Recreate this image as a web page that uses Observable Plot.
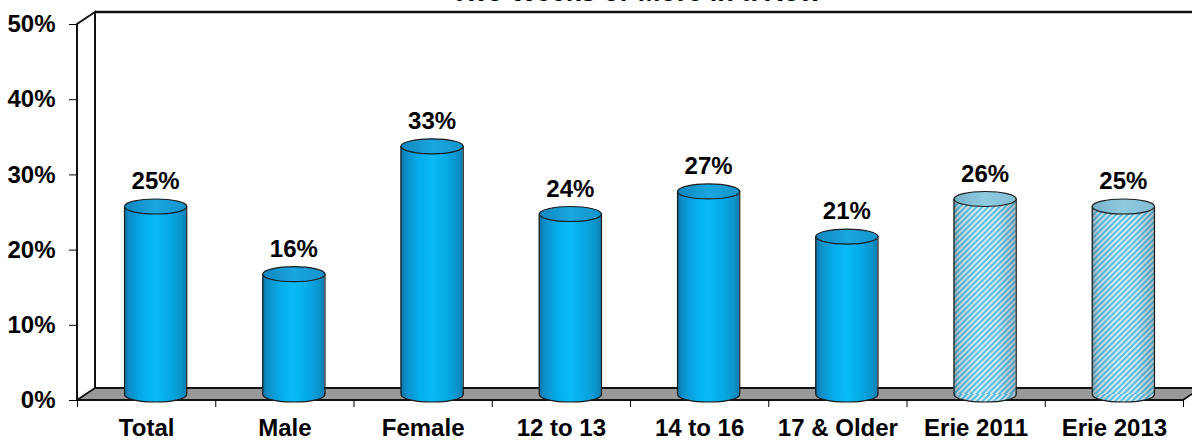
<!DOCTYPE html>
<html>
<head>
<meta charset="utf-8">
<script src="https://cdn.jsdelivr.net/npm/d3@7"></script>
<script src="https://cdn.jsdelivr.net/npm/@observablehq/plot@0.6"></script>
<style>
  html, body { margin: 0; padding: 0; background: #fff; overflow: hidden; }
  #wrap { position: relative; width: 1192px; height: 443px; overflow: hidden; }
  #title {
    position: absolute; left: 636px; top: -21px; transform: translateX(-50%);
    white-space: nowrap; font: bold 27px/27px "Liberation Sans", Arial, sans-serif; color: #000;
  }
</style>
</head>
<body>
<div id="wrap">
  <div id="title">Two Weeks or More in a Row</div>
  <div id="chart"></div>
</div>
<script>
// Share of respondents, by group
const categories = ["Total", "Male", "Female", "12 to 13", "14 to 16", "17 & Older", "Erie 2011", "Erie 2013"];
const percents   = [25, 16, 33, 24, 27, 21, 26, 25];
const isErie     = [false, false, false, false, false, false, true, true];
const yTicks     = [0, 10, 20, 30, 40, 50];

const rows = categories.map((category, i) => ({i, category, value: percents[i], erie: isErie[i]}));
const plain = rows.filter(d => !d.erie);
const erie = rows.filter(d => d.erie);

// Layout of the pseudo-3D box
const W = 1192, H = 443;
const M = {top: 24, right: 9, bottom: 43, left: 77};
const DEPTH = [18, -12];              // offset of the back wall
const MID = [9, -6];                  // cylinders sit halfway into the depth
const HW = 0.225;                     // cylinder half-width, in category units
const unitPx = (W - M.left - M.right) / categories.length;
const RX = HW * unitPx, RY = 7.5, K = 0.5523;

// Elliptical cross-section of a cylinder, used as a dot symbol
const ellipse = {
  draw(ctx) {
    ctx.moveTo(RX, 0);
    ctx.bezierCurveTo(RX, K * RY, K * RX, RY, 0, RY);
    ctx.bezierCurveTo(-K * RX, RY, -RX, K * RY, -RX, 0);
    ctx.bezierCurveTo(-RX, -K * RY, -K * RX, -RY, 0, -RY);
    ctx.bezierCurveTo(K * RX, -RY, RX, -K * RY, RX, 0);
    ctx.closePath();
  }
};

const cx = d => d.i + 0.5;
const outline = {stroke: "#1b1b1b", strokeWidth: 1.2};
const mid = {dx: MID[0], dy: MID[1]};

function cylinder(data, bodyFill, topFill, shade) {
  const marks = [
    Plot.dot(data, {x: cx, y: 0, symbol: ellipse, fill: bodyFill, ...outline, ...mid}),
  ];
  if (shade) marks.push(Plot.dot(data, {x: cx, y: 0, symbol: ellipse, fill: shade, ...mid}));
  marks.push(Plot.rect(data, {x1: d => cx(d) - HW, x2: d => cx(d) + HW, y1: 0, y2: d => d.value, fill: bodyFill, ...mid}));
  if (shade) marks.push(Plot.rect(data, {x1: d => cx(d) - HW, x2: d => cx(d) + HW, y1: 0, y2: d => d.value, fill: shade, ...mid}));
  marks.push(
    Plot.ruleX(data, {x: d => cx(d) - HW, y1: 0, y2: d => d.value, ...outline, ...mid}),
    Plot.ruleX(data, {x: d => cx(d) + HW, y1: 0, y2: d => d.value, ...outline, ...mid}),
    Plot.dot(data, {x: cx, y: d => d.value, symbol: ellipse, fill: topFill, ...outline, ...mid})
  );
  return marks;
}

const plot = Plot.plot({
  width: W,
  height: H,
  marginTop: M.top,
  marginRight: M.right,
  marginBottom: M.bottom,
  marginLeft: M.left,
  style: {
    fontFamily: '"Liberation Sans", Arial, sans-serif',
    fontSize: "24px",
    fontWeight: "bold",
    color: "#000",
    background: "transparent"
  },
  x: {domain: [0, categories.length], ticks: d3.range(categories.length + 1), tickFormat: () => "", tickSize: 7, label: null},
  y: {domain: [0, 50], ticks: yTicks, tickFormat: d => d + "%", tickSize: 8, tickPadding: 14, label: null},
  marks: [
    ...cylinder(plain, "url(#bodyBlue)", "url(#topBlue)", null),
    ...cylinder(erie, "url(#hatch)", "url(#topErie)", "url(#shade)"),
    Plot.text(rows, {x: cx, y: d => d.value, text: d => d.value + "%", dx: MID[0], dy: -31, fill: "#000"}),
    Plot.text(rows, {x: cx, y: 0, text: d => d.category, dy: 28, fill: "#000"})
  ]
});

const svg = d3.select(plot);

// Gradients and hatching used by the cylinders
const defs = svg.insert("defs", ":first-child");
function grad(id, stops) {
  const g = defs.append("linearGradient").attr("id", id).attr("x1", 0).attr("x2", 1).attr("y1", 0).attr("y2", 0);
  for (const [o, c, a] of stops) g.append("stop").attr("offset", o).attr("stop-color", c).attr("stop-opacity", a ?? 1);
}
grad("bodyBlue", [[0, "#0a6e9f"], [0.08, "#0d8cc6"], [0.3, "#05aeec"], [0.5, "#08bbf5"], [0.75, "#06a8e4"], [0.92, "#0a92c9"], [1, "#0a7eb2"]]);
grad("topBlue", [[0, "#0f86bd"], [0.5, "#1aa6de"], [1, "#1393cb"]]);
grad("topErie", [[0, "#76b2ca"], [0.5, "#90cadf"], [1, "#82bdd3"]]);
grad("shade", [[0, "#000", 0.3], [0.1, "#000", 0.1], [0.4, "#000", 0], [0.7, "#000", 0.02], [1, "#000", 0.2]]);
const pat = defs.append("pattern").attr("id", "hatch").attr("patternUnits", "userSpaceOnUse")
  .attr("width", 4).attr("height", 4).attr("patternTransform", "rotate(45)");
pat.append("rect").attr("width", 4).attr("height", 4).attr("fill", "#5fbfe2");
pat.append("rect").attr("width", 1.7).attr("height", 4).attr("fill", "#e8f7fc");

// Left wall, back wall edge and floor, placed through the plot's scales
const sx = plot.scale("x"), sy = plot.scale("y");
const x0 = sx.apply(0), x1 = sx.apply(categories.length);
const y0 = sy.apply(0), yTop = sy.apply(50);
const [ddx, ddy] = DEPTH;
const frame = svg.insert("g", "defs + *");
frame.append("path")
  .attr("d", `M${x0},${y0}L${x1},${y0}L${x1 + ddx},${y0 + ddy}L${x0 + ddx},${y0 + ddy}Z`)
  .attr("fill", "#999999").attr("stroke", "#111").attr("stroke-width", 1.8).attr("stroke-linejoin", "round");
frame.append("path")
  .attr("d", `M${x0},${y0}L${x0},${yTop}L${x0 + ddx},${yTop + ddy}L${x0 + ddx},${y0 + ddy}`)
  .attr("fill", "none").attr("stroke", "#111").attr("stroke-width", 2);
frame.append("path")
  .attr("d", `M${x0 + ddx},${yTop + ddy}L${x1 + ddx},${yTop + ddy}`)
  .attr("fill", "none").attr("stroke", "#111").attr("stroke-width", 2.4);

document.getElementById("chart").appendChild(plot);
</script>
</body>
</html>
